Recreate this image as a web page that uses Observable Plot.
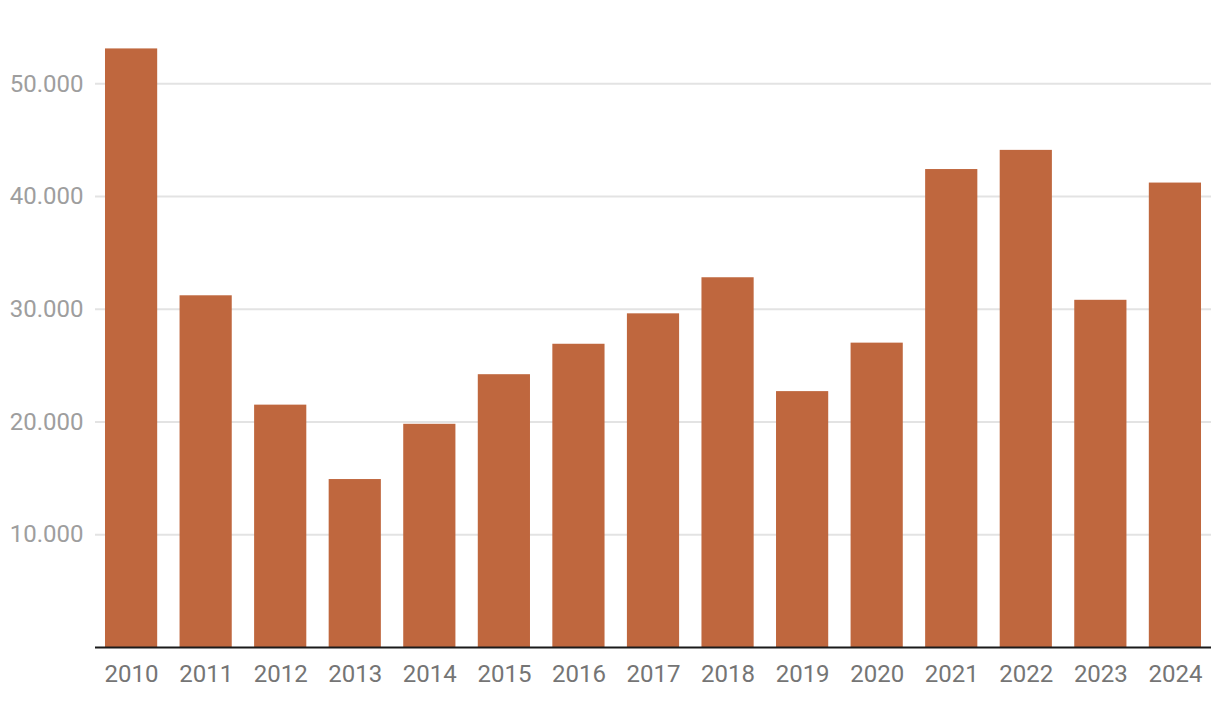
<!DOCTYPE html>
<html>
<head>
<meta charset="utf-8">
<script src="https://cdn.jsdelivr.net/npm/d3@7"></script>
<script src="https://cdn.jsdelivr.net/npm/@observablehq/plot@0.6"></script>
<style>
  html, body { margin: 0; padding: 0; background: #fff; }
  #chart { width: 1220px; height: 704px; }
</style>
</head>
<body>
<div id="chart"></div>
<script>
const years = ["2010","2011","2012","2013","2014","2015","2016","2017","2018","2019","2020","2021","2022","2023","2024"];
const values = [53100, 31200, 21500, 14900, 19800, 24200, 26900, 29600, 32800, 22700, 27000, 42400, 44100, 30800, 41200];
const yTicks = [10000, 20000, 30000, 40000, 50000];

const data = years.map((y, i) => ({year: y, value: values[i]}));
const fmt = d3.formatLocale({decimal: ",", thousands: ".", grouping: [3], currency: ["", ""]}).format(",");

const chart = Plot.plot({
  width: 1220,
  height: 704,
  marginLeft: 95,
  marginRight: 9,
  marginTop: 27,
  marginBottom: 57,
  style: {fontFamily: "Roboto", fontSize: "24px", background: "#fff"},
  x: {domain: years, paddingInner: 0.3, paddingOuter: 0.134, round: false, label: null, tickSize: 0, tickPadding: 17},
  y: {domain: [0, 55000], label: null},
  marks: [
    Plot.gridY(yTicks, {stroke: "#e3e3e3", strokeOpacity: 1, strokeWidth: 2}),
    Plot.barY(data, {x: "year", y: "value", fill: "#bf673e"}),
    Plot.ruleY([0], {stroke: "#1a1a1a", strokeWidth: 2}),
    Plot.axisY(yTicks, {tickSize: 0, tickPadding: 12, tickFormat: fmt, fill: "#9e9e9e", label: null, fontSize: 24}),
    Plot.axisX({tickSize: 0, tickPadding: 17, fill: "#757575", label: null, fontSize: 24})
  ]
});
document.getElementById("chart").appendChild(chart);
</script>
</body>
</html>
